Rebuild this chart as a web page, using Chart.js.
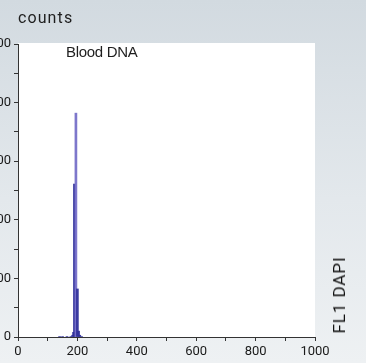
<!DOCTYPE html>
<html><head><meta charset="utf-8">
<script src="https://cdn.jsdelivr.net/npm/chart.js@4"></script>
<style>
html,body{margin:0;padding:0;width:366px;height:363px;overflow:hidden;}
body{background:linear-gradient(to bottom,#d2dae0 0%,#e3e8ec 55%,#eef1f3 100%);position:relative;font-family:Roboto,"DejaVu Sans",sans-serif;}
#wrap{position:absolute;left:-20px;top:0;width:386px;height:363px;}
#t1{position:absolute;left:18px;top:8px;font-size:16px;color:#1e1e1e;letter-spacing:1.1px;}
#t2{position:absolute;left:66px;top:43px;font-family:"Liberation Sans",Arial,sans-serif;font-size:15px;color:#1e1e1e;letter-spacing:-0.3px;}
#t3{position:absolute;left:339px;top:295px;transform:translate(-50%,-50%) rotate(-90deg);font-size:17px;color:#111;white-space:nowrap;letter-spacing:0.9px;}
</style></head>
<body>
<div id="wrap"><canvas id="c" width="386" height="363"></canvas></div>
<div id="t1">counts</div>
<div id="t2">Blood DNA</div>
<div id="t3">FL1 DAPI</div>
<script>
const channels = [140, 150, 165, 178, 184, 187, 190, 195, 200, 204, 208, 214];
const counts   = [1,   1,   1,   1,   3,   8,   261, 382, 82,  10,  3,   1];
const xTicks = [0, 200, 400, 600, 800, 1000];
const yTicks = [0, 100, 200, 300, 400, 500];
const peak = Math.max(...counts);
const barColors = counts.map(v => v === peak ? 'rgba(118,112,200,0.95)' : 'rgba(48,48,155,0.95)');

const whiteArea = {
  id:'whiteArea',
  beforeDraw(chart){
    const {ctx, chartArea:a} = chart;
    ctx.save(); ctx.fillStyle='#ffffff';
    ctx.fillRect(a.left, a.top-1, a.right-a.left, a.bottom-a.top+1);
    ctx.restore();
  }
};

new Chart(document.getElementById('c'), {
  type:'bar',
  data:{datasets:[{data:channels.map((c,i)=>({x:c,y:counts[i]})), backgroundColor:barColors, barThickness:2, grouped:false}]},
  options:{
    responsive:false, animation:false,
    layout:{padding:{top:44,right:51,left:0,bottom:0}},
    plugins:{legend:{display:false},tooltip:{enabled:false}},
    scales:{
      x:{type:'linear',min:0,max:1000,offset:false,
        afterFit(s){s.height=26;},
        ticks:{stepSize:100,autoSkip:false,maxRotation:0,padding:3,color:'#1a1a1a',font:{family:'Roboto',size:13},
          callback:v=> xTicks.includes(v)? String(v) : ''},
        grid:{drawOnChartArea:false,offset:false,tickLength:4,color:'#333',lineWidth:1},
        border:{color:'#333',width:1}},
      y:{min:0,max:500,
        afterFit(s){s.width=38;},
        ticks:{stepSize:50,autoSkip:false,padding:3,color:'#1a1a1a',font:{family:'Roboto',size:13},
          callback:v=> yTicks.includes(v)? String(v) : ''},
        grid:{drawOnChartArea:false,tickLength:4,color:'#333',lineWidth:1},
        border:{color:'#333',width:1}}
    }
  },
  plugins:[whiteArea]
});
</script>
</body></html>
